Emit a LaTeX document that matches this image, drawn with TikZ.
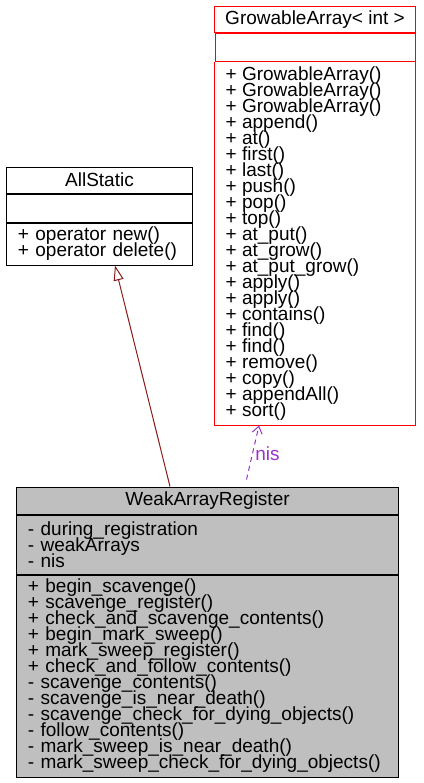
\documentclass[tikz,border=0pt]{standalone}
\usepackage{fontspec}
\setmainfont{Liberation Sans}
\usetikzlibrary{arrows.meta,positioning}
\definecolor{inhred}{HTML}{8B1A1A}
\definecolor{usepurple}{HTML}{9A32CD}
\definecolor{classgray}{HTML}{BFBFBF}
\newcommand{\umlfont}{\fontsize{19bp}{16bp}\selectfont\lineskiplimit=-30bp}
\tikzset{
    cls/.style={rectangle, draw, line width=1bp, inner xsep=11bp, inner ysep=0pt, font=\umlfont},
    clstitle/.style={cls, align=center},
    clspart/.style={cls, align=left},
    clstext/.style={inner sep=0pt, align=left, font=\umlfont},
    redline/.style={draw=red, line width=1bp},
    inherit/.style={color=inhred, line width=1bp, -{Triangle[open, length=15bp, width=10bp]}},
    uses/.style={color=usepurple, line width=1bp, dash pattern=on 5bp off 4bp, -{Straight Barb[length=7bp, width=10bp]}},
}

\begin{document}
\begin{tikzpicture}[x=1bp, y=-1bp]
  \useasboundingbox (0,0) rectangle (423,783);

  % GrowableArray< int >
  \node[clstitle, draw=red, minimum width=200bp, minimum height=26bp] (ga) at (315,20) {GrowableArray< int >};
  \node[clstitle, draw=red, minimum width=200bp, minimum height=27bp, below=0pt of ga] (gaattr) {};
  \node[clstitle, draw=none, minimum width=200bp, minimum height=363bp, below=0pt of gaattr] (gameth) {};
  \node[clstext, anchor=west] (gamethtext) at ([xshift=11bp]gameth.west)
    {+ GrowableArray()\\+ GrowableArray()\\+ GrowableArray()\\+ append()\\+ at()\\+ first()\\+ last()\\+ push()\\+ pop()\\+ top()\\+ at\_put()\\+ at\_grow()\\+ at\_put\_grow()\\+ apply()\\+ apply()\\+ contains()\\+ find()\\+ find()\\+ remove()\\+ copy()\\+ appendAll()\\+ sort()};

  % AllStatic
  \node[clstitle, minimum width=185bp, minimum height=26bp] (as) at (99.5,180) {AllStatic};
  \node[clspart, text width=163bp, minimum height=28bp, below=0pt of as] (asattr) {};
  \node[clspart, text width=163bp, minimum height=42bp, below=0pt of asattr] (asmeth)
    {+ operator new()\\+ operator delete()};

  % WeakArrayRegister
  \node[clstitle, fill=classgray, minimum width=381bp, minimum height=27bp] (wr) at (207.5,500.5) {WeakArrayRegister};
  \node[clspart, fill=classgray, text width=359bp, minimum height=59bp, below=0pt of wr] (wrattr)
    {- during\_registration\\- weakArrays\\- nis};
  \node[clspart, fill=classgray, text width=359bp, minimum height=202bp, below=0pt of wrattr] (wrmeth)
    {+ begin\_scavenge()\\+ scavenge\_register()\\+ check\_and\_scavenge\_contents()\\+ begin\_mark\_sweep()\\+ mark\_sweep\_register()\\+ check\_and\_follow\_contents()\\- scavenge\_contents()\\- scavenge\_is\_near\_death()\\- scavenge\_check\_for\_dying\_objects()\\- follow\_contents()\\- mark\_sweep\_is\_near\_death()\\- mark\_sweep\_check\_for\_dying\_objects()};

  \draw[inherit] ([xshift=-37.5bp]wr.north) -- ([xshift=15.5bp]asmeth.south);
  \draw[uses] ([xshift=39bp, yshift=7bp]wr.north) -- node[pos=0.47, anchor=west, inner sep=2.5bp, font=\umlfont] (nislbl) {nis} ([xshift=-56bp]gameth.south);

  % red outline of the methods part, side by side
  \draw[redline] (gameth.north west) -- (gameth.south west);
  \draw[redline] (gameth.north east) -- (gameth.south east);
  \draw[redline] (gameth.south west) -- (gameth.south east);
\end{tikzpicture}
\end{document}
